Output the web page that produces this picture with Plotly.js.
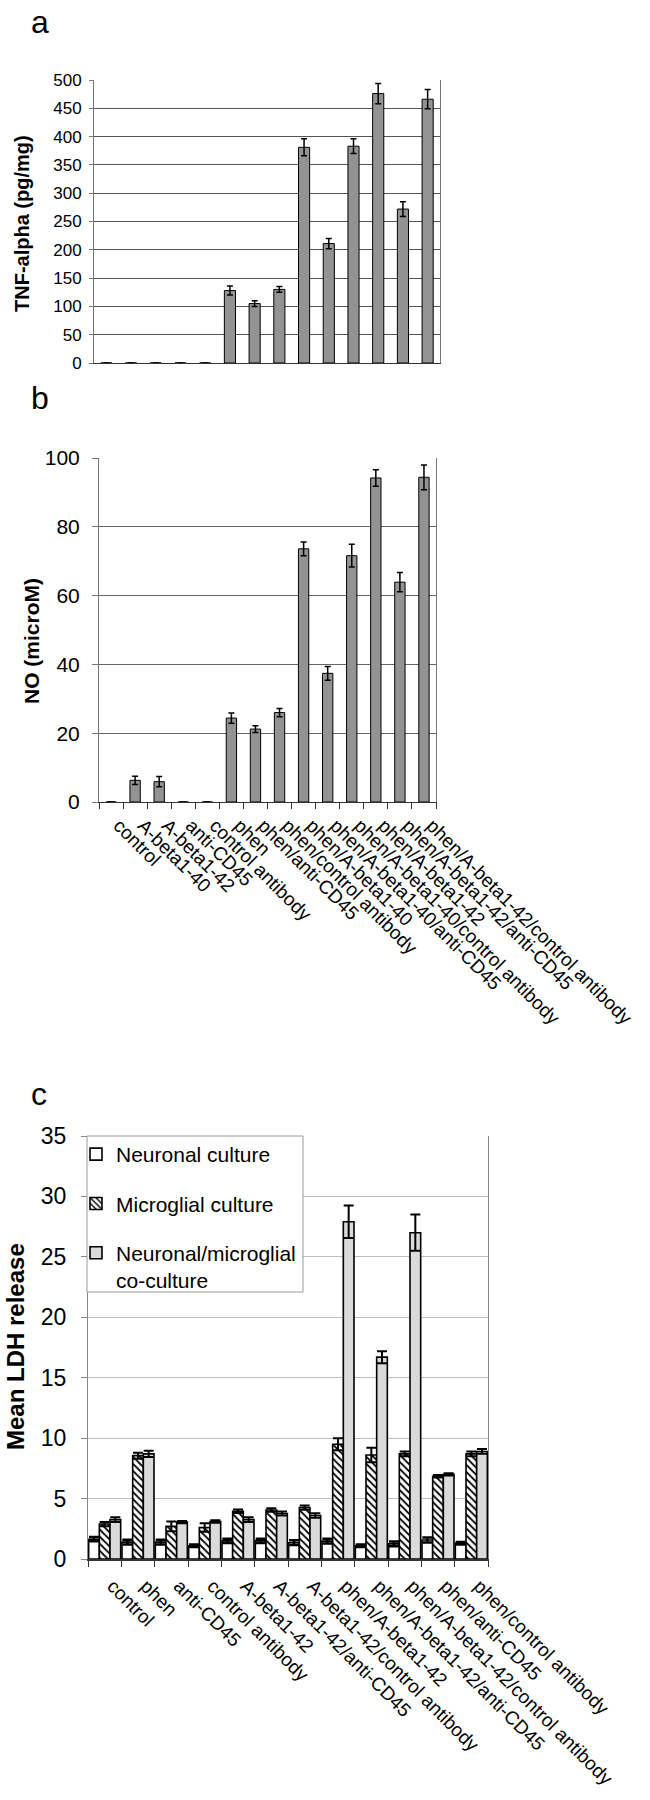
<!DOCTYPE html>
<html>
<head>
<meta charset="utf-8">
<script src="https://cdn.plot.ly/plotly-3.0.1.min.js"></script>
<style>html,body{margin:0;padding:0;background:#fff;}#chart{width:650px;height:1800px;}</style>
</head>
<body>
<div id="chart"></div>
<script>
// ---- Data ----
const categoriesAB = ['control','A-beta1-40','A-beta1-42','anti-CD45','control antibody','phen','phen/anti-CD45','phen/control antibody','phen/A-beta1-40','phen/A-beta1-40/anti-CD45','phen/A-beta1-40/control antibody','phen/A-beta1-42','phen/A-beta1-42/anti-CD45','phen/A-beta1-42/control antibody'];
const tnfAlpha    = [0,0,0,0,0,128,105,130,381,211,383,476,272,466];
const tnfAlphaErr = [0,0,0,0,0,8,5,5,15,9,13,18,13,17];
const noValues    = [0,6.3,5.9,0,0,24.4,21.2,26,73.6,37.4,71.6,94.2,63.9,94.4];
const noErr       = [0,1.2,1.5,0,0,1.5,1,1.2,2,2,3.3,2.4,2.8,3.6];

const categoriesC = ['control','phen','anti-CD45','control antibody','A-beta1-42','A-beta1-42/anti-CD45','A-beta1-42/control antibody','phen/A-beta1-42','phen/A-beta1-42/anti-CD45','phen/A-beta1-42/control antibody','phen/anti-CD45','phen/control antibody'];
const seriesNames = ['Neuronal culture','Microglial culture','Neuronal/microglial<br>co-culture'];
const neuronal      = [1.64,1.4,1.4,1.1,1.5,1.5,1.35,1.48,1.1,1.25,1.57,1.3];
const neuronalErr   = [0.18,0.2,0.2,0.1,0.18,0.18,0.2,0.2,0.1,0.2,0.2,0.1];
const microglial    = [2.89,8.55,2.7,2.6,3.95,4.05,4.25,9.5,8.6,8.7,6.85,8.7];
const microglialErr = [0.18,0.25,0.4,0.35,0.14,0.15,0.17,0.5,0.6,0.2,0.1,0.2];
const coCulture     = [3.26,8.7,3.05,3.1,3.26,3.76,3.6,27.9,16.7,27.0,7.0,8.9];
const coCultureErr  = [0.19,0.25,0.1,0.1,0.19,0.17,0.19,1.35,0.5,1.5,0.1,0.2];

// ---- Helpers ----
const W = 650, H = 1800;
const px = v => v / W;
const py = v => 1 - v / H;
const FONT = '"Liberation Sans", Arial, sans-serif';

const traces = [
  {type:'bar', x:categoriesAB, y:tnfAlpha, xaxis:'x', yaxis:'y', showlegend:false, width:0.45,
   marker:{color:'#939393', line:{color:'#000', width:1}},
   error_y:{type:'data', array:tnfAlphaErr, color:'#000', thickness:1.5, width:3}},
  {type:'bar', x:categoriesAB, y:noValues, xaxis:'x2', yaxis:'y2', showlegend:false, width:0.43,
   marker:{color:'#939393', line:{color:'#000', width:1}},
   error_y:{type:'data', array:noErr, color:'#000', thickness:1.5, width:3}},
  {type:'bar', name:seriesNames[0], x:categoriesC, y:neuronal, xaxis:'x3', yaxis:'y3', legendgroup:'g1',
   width:0.32, offset:-0.48,
   marker:{color:'#ffffff', line:{color:'#000', width:1.6}},
   error_y:{type:'data', array:neuronalErr, color:'#000', thickness:2.5, width:5}},
  {type:'bar', name:seriesNames[1], x:categoriesC, y:microglial, xaxis:'x3', yaxis:'y3', legendgroup:'g2',
   width:0.32, offset:-0.16,
   marker:{color:'#ffffff', line:{color:'#000', width:1.6},
           pattern:{shape:'\\', fgcolor:'#000', bgcolor:'#fff', size:5, solidity:0.35}},
   error_y:{type:'data', array:microglialErr, color:'#000', thickness:2, width:5}},
  {type:'bar', name:seriesNames[2], x:categoriesC, y:coCulture, xaxis:'x3', yaxis:'y3', legendgroup:'g3',
   width:0.32, offset:0.16,
   marker:{color:'#dadada', line:{color:'#000', width:1.6}},
   error_y:{type:'data', array:coCultureErr, color:'#000', thickness:2, width:5}}
];

const layout = {
  width: W, height: H, autosize:false,
  margin:{l:0,r:0,t:0,b:0},
  paper_bgcolor:'#fff', plot_bgcolor:'#fff',
  font:{family:FONT, color:'#000'},
  showlegend:true,
  barmode:'group',
  // Panel a
  xaxis:{domain:[px(94), px(440)], anchor:'y', type:'category', showticklabels:false, ticks:'',
         showline:true, linecolor:'#333', linewidth:1, showgrid:false},
  yaxis:{domain:[py(363), py(80)], anchor:'x', range:[0,500], dtick:50, tickfont:{size:17},
         showline:true, linecolor:'#777', linewidth:1, mirror:true, ticks:'outside', ticklen:4, tickcolor:'#777',
         gridcolor:'#555', gridwidth:1, zeroline:false, ticklabelstandoff:4},
  // Panel b
  xaxis2:{domain:[px(99), px(436)], anchor:'y2', type:'category', tickmode:'linear', tick0:0, dtick:1,
          tickangle:45, tickfont:{size:19},
          ticks:'outside', tickson:'boundaries', ticklen:6, tickcolor:'#333', ticklabelshift:8, ticklabelstandoff:4,
          showline:true, linecolor:'#333', linewidth:1, showgrid:false},
  yaxis2:{domain:[py(802), py(458)], anchor:'x2', range:[0,100], dtick:20, tickfont:{size:21},
          showline:true, linecolor:'#777', linewidth:1, mirror:true, ticks:'outside', ticklen:6, tickcolor:'#777',
          gridcolor:'#666', gridwidth:1, zeroline:false, ticklabelstandoff:8},
  // Panel c
  xaxis3:{domain:[px(88), px(488)], anchor:'y3', type:'category', tickmode:'linear', tick0:0, dtick:1,
          tickangle:45, tickfont:{size:19},
          ticks:'outside', tickson:'boundaries', ticklen:6, tickcolor:'#333', ticklabelshift:8, ticklabelstandoff:7,
          showline:true, linecolor:'#333', linewidth:1.5, showgrid:false},
  yaxis3:{domain:[py(1559), py(1136)], anchor:'x3', range:[0,35], dtick:5, tickfont:{size:23},
          showline:true, linecolor:'#888', linewidth:1, mirror:true, ticks:'outside', ticklen:6, tickcolor:'#888',
          gridcolor:'#bbb', gridwidth:1, zeroline:false, ticklabelstandoff:10},
  legend:{x:px(76), y:py(1134), xanchor:'left', yanchor:'top', bgcolor:'rgba(0,0,0,0)', borderwidth:0,
          font:{size:21, family:FONT}, tracegroupgap:19, valign:'top', traceorder:'grouped'},
  shapes:[
    {type:'rect', xref:'paper', yref:'paper', x0:px(87), y0:py(1136), x1:px(303), y1:py(1292),
     fillcolor:'#fff', line:{color:'#999', width:1}, layer:'above'}
  ],
  annotations:[
    {text:'a', xref:'paper', yref:'paper', x:px(40), y:py(22), xanchor:'center', yanchor:'middle', showarrow:false, font:{size:32}},
    {text:'b', xref:'paper', yref:'paper', x:px(40), y:py(398), xanchor:'center', yanchor:'middle', showarrow:false, font:{size:32}},
    {text:'c', xref:'paper', yref:'paper', x:px(39), y:py(1094), xanchor:'center', yanchor:'middle', showarrow:false, font:{size:32}},
    {text:'<b>TNF-alpha (pg/mg)</b>', xref:'paper', yref:'paper', x:px(22), y:py(224), textangle:-90, xanchor:'center', yanchor:'middle', showarrow:false, font:{size:20}},
    {text:'<b>NO (microM)</b>', xref:'paper', yref:'paper', x:px(32), y:py(641), textangle:-90, xanchor:'center', yanchor:'middle', showarrow:false, font:{size:21}},
    {text:'<b>Mean LDH release</b>', xref:'paper', yref:'paper', x:px(15), y:py(1347), textangle:-90, xanchor:'center', yanchor:'middle', showarrow:false, font:{size:24}}
  ]
};

Plotly.newPlot('chart', traces, layout, {staticPlot:true});
</script>
</body>
</html>
